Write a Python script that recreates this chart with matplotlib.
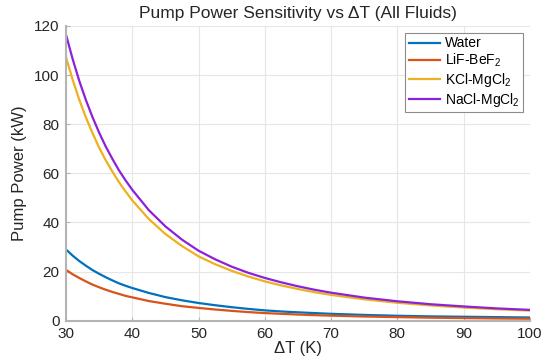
import matplotlib
matplotlib.use("Agg")
import matplotlib.pyplot as plt

plt.rcParams['font.family'] = ['Liberation Sans', 'DejaVu Sans']
plt.rcParams['mathtext.fontset'] = 'custom'
plt.rcParams['mathtext.rm'] = 'Liberation Sans'
plt.rcParams['mathtext.it'] = 'Liberation Sans'

delta_t = [30, 31, 32, 33, 34, 35, 36, 37, 38, 39, 40, 42.5, 45, 47.5, 50, 52.5, 55, 57.5,
           60, 62.5, 65, 67.5, 70, 75, 80, 85, 90, 95, 100]
water = [29.0, 26.5, 24.3, 22.4, 20.6, 19.1, 17.7, 16.4, 15.2, 14.2, 13.3, 11.3, 9.6, 8.3, 7.2,
         6.3, 5.5, 4.8, 4.2, 3.75, 3.4, 3.1, 2.8, 2.35, 2.0, 1.75, 1.6, 1.45, 1.3]
lif_bef2 = [20.7, 18.9, 17.4, 16.0, 14.7, 13.6, 12.6, 11.7, 10.9, 10.1, 9.5, 8.0, 6.9, 5.9, 5.2,
            4.55, 4.0, 3.5, 3.1, 2.8, 2.5, 2.25, 2.05, 1.7, 1.45, 1.22, 1.05, 0.9, 0.78]
kcl_mgcl2 = [107.3, 98.2, 90.0, 82.8, 76.4, 70.5, 65.3, 60.7, 56.4, 52.6, 49.0, 41.4, 35.3, 30.4, 26.2,
             23.0, 20.3, 18.0, 16.0, 14.35, 12.9, 11.6, 10.5, 8.7, 7.3, 6.2, 5.35, 4.65, 4.1]
nacl_mgcl2 = [116.5, 106.6, 97.7, 89.9, 82.9, 76.6, 70.9, 65.9, 61.2, 57.1, 53.3, 45.0, 38.4, 33.0, 28.5,
              25.0, 22.0, 19.5, 17.4, 15.6, 14.0, 12.6, 11.4, 9.4, 7.9, 6.7, 5.8, 5.0, 4.4]

labels = ['Water', 'LiF-BeF$_2$', 'KCl-MgCl$_2$', 'NaCl-MgCl$_2$']
colors = ['#0072BD', '#D95319', '#EDB120', '#8B22DA']
x_ticks = [30, 40, 50, 60, 70, 80, 90, 100]
y_ticks = [0, 20, 40, 60, 80, 100, 120]

fig = plt.figure(figsize=(5.48, 3.64), dpi=100)
ax = fig.add_axes([0.1204, 0.119, 0.8466, 0.8096])

for series, lab, col in zip([water, lif_bef2, kcl_mgcl2, nacl_mgcl2], labels, colors):
    ax.plot(delta_t, series, color=col, lw=1.6, label=lab, solid_joinstyle='round')

ax.set_xlim(30, 100)
ax.set_ylim(0, 120)
ax.set_xticks(x_ticks)
ax.set_yticks(y_ticks)
ax.grid(True, color='#e6e6e6', lw=0.8)
ax.set_axisbelow(True)
for s in ['top', 'right']:
    ax.spines[s].set_visible(False)
for s in ['left', 'bottom']:
    ax.spines[s].set_color('#b4b4b4')
    ax.spines[s].set_linewidth(1.5)
ax.tick_params(direction='in', length=3, color='#b4b4b4', labelsize=11, labelcolor='#262626')
ax.tick_params(axis='x', pad=4.5)
ax.tick_params(axis='y', pad=4.5)

ax.set_xlabel('ΔT (K)', fontsize=12, color='#262626', labelpad=0)
ax.set_ylabel('Pump Power (kW)', fontsize=12, color='#262626', labelpad=5)
ax.set_title('Pump Power Sensitivity vs ΔT (All Fluids)', fontsize=12.5, color='#262626', pad=6)

leg = ax.legend(loc='upper right', fontsize=10, frameon=True, fancybox=False,
                edgecolor='#8c8c8c', framealpha=1, borderpad=0.25, labelspacing=0.12,
                handlelength=2.3, handletextpad=0.3, borderaxespad=0.5)
leg.get_frame().set_linewidth(0.8)

fig.savefig('out.png', dpi=100)
